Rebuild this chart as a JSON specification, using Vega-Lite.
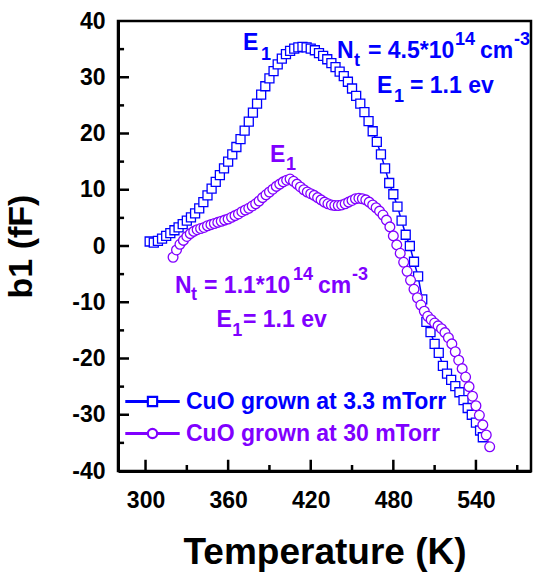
{
  "$schema": "https://vega.github.io/schema/vega-lite/v6.json",
  "width": 413,
  "height": 450,
  "autosize": {"type": "none"},
  "padding": {"left": 118, "top": 21, "right": 3, "bottom": 106},
  "config": {
    "view": {"stroke": "#000000", "strokeWidth": 2.5},
    "font": "Liberation Sans",
    "axis": {
      "grid": false,
      "ticks": false,
      "domainColor": "#000000",
      "domainWidth": 3,
      "labelFont": "Liberation Sans",
      "labelFontWeight": "bold",
      "labelFontSize": 23,
      "labelColor": "#000000",
      "labelFlush": false,
      "titleFont": "Liberation Sans",
      "titleFontWeight": "bold",
      "titleColor": "#000000"
    }
  },
  "datasets": {
    "xmajor": [{"v":300},{"v":360},{"v":420},{"v":480},{"v":540}],
    "xminor": [{"v":330},{"v":390},{"v":450},{"v":510},{"v":570}],
    "ymajor": [{"v":-30},{"v":-20},{"v":-10},{"v":0},{"v":10},{"v":20},{"v":30}],
    "yminor": [{"v":-35},{"v":-25},{"v":-15},{"v":-5},{"v":5},{"v":15},{"v":25},{"v":35}],
    "curves": [
      {"s":"3.3 mTorr","T":303,"b":0.8},{"s":"3.3 mTorr","T":306,"b":0.6},{"s":"3.3 mTorr","T":309,"b":0.9},{"s":"3.3 mTorr","T":312,"b":1.3},
      {"s":"3.3 mTorr","T":315,"b":1.8},{"s":"3.3 mTorr","T":318,"b":2.3},{"s":"3.3 mTorr","T":321,"b":2.8},{"s":"3.3 mTorr","T":324,"b":3.3},
      {"s":"3.3 mTorr","T":327,"b":3.9},{"s":"3.3 mTorr","T":330,"b":4.5},{"s":"3.3 mTorr","T":333,"b":5.1},{"s":"3.3 mTorr","T":336,"b":5.8},
      {"s":"3.3 mTorr","T":339,"b":6.7},{"s":"3.3 mTorr","T":342,"b":7.8},{"s":"3.3 mTorr","T":345,"b":9.0},{"s":"3.3 mTorr","T":348,"b":10.2},
      {"s":"3.3 mTorr","T":351,"b":11.4},{"s":"3.3 mTorr","T":354,"b":12.6},{"s":"3.3 mTorr","T":357,"b":13.8},{"s":"3.3 mTorr","T":360,"b":15.0},
      {"s":"3.3 mTorr","T":363,"b":16.3},{"s":"3.3 mTorr","T":366,"b":17.6},{"s":"3.3 mTorr","T":369,"b":19.0},{"s":"3.3 mTorr","T":372,"b":20.5},
      {"s":"3.3 mTorr","T":375,"b":22.1},{"s":"3.3 mTorr","T":378,"b":23.7},{"s":"3.3 mTorr","T":381,"b":25.3},{"s":"3.3 mTorr","T":384,"b":26.9},
      {"s":"3.3 mTorr","T":387,"b":28.4},{"s":"3.3 mTorr","T":390,"b":29.8},{"s":"3.3 mTorr","T":393,"b":31.1},{"s":"3.3 mTorr","T":396,"b":32.3},
      {"s":"3.3 mTorr","T":399,"b":33.3},{"s":"3.3 mTorr","T":402,"b":34.1},{"s":"3.3 mTorr","T":405,"b":34.7},{"s":"3.3 mTorr","T":408,"b":35.1},
      {"s":"3.3 mTorr","T":411,"b":35.3},{"s":"3.3 mTorr","T":414,"b":35.4},{"s":"3.3 mTorr","T":417,"b":35.3},{"s":"3.3 mTorr","T":420,"b":35.1},
      {"s":"3.3 mTorr","T":423,"b":34.8},{"s":"3.3 mTorr","T":426,"b":34.3},{"s":"3.3 mTorr","T":429,"b":33.8},{"s":"3.3 mTorr","T":432,"b":33.2},
      {"s":"3.3 mTorr","T":435,"b":32.5},{"s":"3.3 mTorr","T":438,"b":31.8},{"s":"3.3 mTorr","T":441,"b":31.0},{"s":"3.3 mTorr","T":444,"b":30.2},
      {"s":"3.3 mTorr","T":447,"b":29.2},{"s":"3.3 mTorr","T":450,"b":28.0},{"s":"3.3 mTorr","T":453,"b":26.7},{"s":"3.3 mTorr","T":456,"b":25.3},
      {"s":"3.3 mTorr","T":459,"b":23.8},{"s":"3.3 mTorr","T":462,"b":22.2},{"s":"3.3 mTorr","T":465,"b":20.4},{"s":"3.3 mTorr","T":468,"b":18.5},
      {"s":"3.3 mTorr","T":471,"b":16.3},{"s":"3.3 mTorr","T":474,"b":13.8},{"s":"3.3 mTorr","T":477,"b":11.2},{"s":"3.3 mTorr","T":480,"b":9.2},
      {"s":"3.3 mTorr","T":483,"b":7.0},{"s":"3.3 mTorr","T":486,"b":4.5},{"s":"3.3 mTorr","T":489,"b":2.0},{"s":"3.3 mTorr","T":492,"b":0.0},
      {"s":"3.3 mTorr","T":495,"b":-2.8},{"s":"3.3 mTorr","T":498,"b":-5.4},{"s":"3.3 mTorr","T":501,"b":-9.5},{"s":"3.3 mTorr","T":504,"b":-13.5},
      {"s":"3.3 mTorr","T":507,"b":-15.3},{"s":"3.3 mTorr","T":510,"b":-17.4},{"s":"3.3 mTorr","T":513,"b":-19.0},{"s":"3.3 mTorr","T":516,"b":-21.3},
      {"s":"3.3 mTorr","T":519,"b":-22.7},{"s":"3.3 mTorr","T":522,"b":-23.8},{"s":"3.3 mTorr","T":525,"b":-24.9},{"s":"3.3 mTorr","T":528,"b":-26.0},
      {"s":"3.3 mTorr","T":531,"b":-27.4},{"s":"3.3 mTorr","T":534,"b":-28.8},{"s":"3.3 mTorr","T":537,"b":-30.0},{"s":"3.3 mTorr","T":540,"b":-31.4},
      {"s":"3.3 mTorr","T":543,"b":-32.8},{"s":"3.3 mTorr","T":545,"b":-34.0},
      {"s":"30 mTorr","T":320,"b":-2.0},{"s":"30 mTorr","T":322.5,"b":-0.7},{"s":"30 mTorr","T":325,"b":0.3},{"s":"30 mTorr","T":327.5,"b":1.0},
      {"s":"30 mTorr","T":330,"b":1.7},{"s":"30 mTorr","T":332.5,"b":2.2},{"s":"30 mTorr","T":335,"b":2.6},{"s":"30 mTorr","T":337.5,"b":2.9},
      {"s":"30 mTorr","T":340,"b":3.1},{"s":"30 mTorr","T":342.5,"b":3.3},{"s":"30 mTorr","T":345,"b":3.6},{"s":"30 mTorr","T":347.5,"b":3.8},
      {"s":"30 mTorr","T":350,"b":4.0},{"s":"30 mTorr","T":352.5,"b":4.2},{"s":"30 mTorr","T":355,"b":4.4},{"s":"30 mTorr","T":357.5,"b":4.6},
      {"s":"30 mTorr","T":360,"b":4.8},{"s":"30 mTorr","T":362.5,"b":5.1},{"s":"30 mTorr","T":365,"b":5.4},{"s":"30 mTorr","T":367.5,"b":5.7},
      {"s":"30 mTorr","T":370,"b":6.1},{"s":"30 mTorr","T":372.5,"b":6.4},{"s":"30 mTorr","T":375,"b":6.7},{"s":"30 mTorr","T":377.5,"b":7.1},
      {"s":"30 mTorr","T":380,"b":7.5},{"s":"30 mTorr","T":382.5,"b":8.0},{"s":"30 mTorr","T":385,"b":8.6},{"s":"30 mTorr","T":387.5,"b":9.1},
      {"s":"30 mTorr","T":390,"b":9.6},{"s":"30 mTorr","T":392.5,"b":10.1},{"s":"30 mTorr","T":395,"b":10.6},{"s":"30 mTorr","T":397.5,"b":11.0},
      {"s":"30 mTorr","T":400,"b":11.4},{"s":"30 mTorr","T":402.5,"b":11.7},{"s":"30 mTorr","T":405,"b":11.9},{"s":"30 mTorr","T":407.5,"b":11.5},
      {"s":"30 mTorr","T":410,"b":11.0},{"s":"30 mTorr","T":412.5,"b":10.5},{"s":"30 mTorr","T":415,"b":10.0},{"s":"30 mTorr","T":417.5,"b":9.6},
      {"s":"30 mTorr","T":420,"b":9.3},{"s":"30 mTorr","T":422.5,"b":9.0},{"s":"30 mTorr","T":425,"b":8.6},{"s":"30 mTorr","T":427.5,"b":8.2},
      {"s":"30 mTorr","T":430,"b":7.8},{"s":"30 mTorr","T":432.5,"b":7.5},{"s":"30 mTorr","T":435,"b":7.3},{"s":"30 mTorr","T":437.5,"b":7.2},
      {"s":"30 mTorr","T":440,"b":7.2},{"s":"30 mTorr","T":442.5,"b":7.3},{"s":"30 mTorr","T":445,"b":7.5},{"s":"30 mTorr","T":447.5,"b":7.8},
      {"s":"30 mTorr","T":450,"b":8.1},{"s":"30 mTorr","T":452.5,"b":8.4},{"s":"30 mTorr","T":455,"b":8.5},{"s":"30 mTorr","T":457.5,"b":8.4},
      {"s":"30 mTorr","T":460,"b":8.2},{"s":"30 mTorr","T":462.5,"b":7.8},{"s":"30 mTorr","T":465,"b":7.3},{"s":"30 mTorr","T":467.5,"b":6.8},
      {"s":"30 mTorr","T":470,"b":6.2},{"s":"30 mTorr","T":472.5,"b":5.5},{"s":"30 mTorr","T":475,"b":4.6},{"s":"30 mTorr","T":477.5,"b":3.4},
      {"s":"30 mTorr","T":480,"b":1.8},{"s":"30 mTorr","T":482.5,"b":0.2},{"s":"30 mTorr","T":485,"b":-1.3},{"s":"30 mTorr","T":487.5,"b":-2.9},
      {"s":"30 mTorr","T":490,"b":-4.5},{"s":"30 mTorr","T":492.5,"b":-6.1},{"s":"30 mTorr","T":495,"b":-7.7},{"s":"30 mTorr","T":497.5,"b":-9.2},
      {"s":"30 mTorr","T":500,"b":-10.5},{"s":"30 mTorr","T":502.5,"b":-11.6},{"s":"30 mTorr","T":505,"b":-12.5},{"s":"30 mTorr","T":507.5,"b":-13.1},
      {"s":"30 mTorr","T":510,"b":-13.7},{"s":"30 mTorr","T":512.5,"b":-14.2},{"s":"30 mTorr","T":515,"b":-14.7},{"s":"30 mTorr","T":517.5,"b":-15.4},
      {"s":"30 mTorr","T":520,"b":-16.3},{"s":"30 mTorr","T":522.5,"b":-17.4},{"s":"30 mTorr","T":525,"b":-18.8},{"s":"30 mTorr","T":527.5,"b":-20.3},
      {"s":"30 mTorr","T":530,"b":-21.8},{"s":"30 mTorr","T":532.5,"b":-23.3},{"s":"30 mTorr","T":535,"b":-25.0},{"s":"30 mTorr","T":537.5,"b":-26.7},
      {"s":"30 mTorr","T":540,"b":-28.4},{"s":"30 mTorr","T":542.5,"b":-30.1},{"s":"30 mTorr","T":545,"b":-31.8},{"s":"30 mTorr","T":547.5,"b":-33.6},
      {"s":"30 mTorr","T":550,"b":-35.7}
    ],
    "notes": [
      {"s":"3.3 mTorr","k":"m","t":"E","T":370.8,"b":34.8},
      {"s":"3.3 mTorr","k":"l","t":"1","T":383.9,"b":33.1},
      {"s":"3.3 mTorr","k":"m","t":"N","T":439.1,"b":33.4},
      {"s":"3.3 mTorr","k":"l","t":"t","T":451.4,"b":32.0},
      {"s":"3.3 mTorr","k":"m","t":"= 4.5*10","T":461.6,"b":33.4},
      {"s":"3.3 mTorr","k":"h","t":"14","T":524.8,"b":35.7},
      {"s":"3.3 mTorr","k":"m","t":"cm","T":543.0,"b":33.4},
      {"s":"3.3 mTorr","k":"h","t":"-3","T":567.6,"b":35.7},
      {"s":"3.3 mTorr","k":"m","t":"E","T":468.1,"b":27.2},
      {"s":"3.3 mTorr","k":"l","t":"1","T":480.5,"b":25.6},
      {"s":"3.3 mTorr","k":"m","t":"= 1.1 ev","T":492.1,"b":27.2},
      {"s":"30 mTorr","k":"m","t":"E","T":390.4,"b":14.9},
      {"s":"30 mTorr","k":"l","t":"1","T":402.0,"b":13.5},
      {"s":"30 mTorr","k":"m","t":"N","T":321.4,"b":-8.4},
      {"s":"30 mTorr","k":"l","t":"t","T":333.0,"b":-9.6},
      {"s":"30 mTorr","k":"m","t":"= 1.1*10","T":342.5,"b":-8.4},
      {"s":"30 mTorr","k":"h","t":"14","T":407.1,"b":-6.0},
      {"s":"30 mTorr","k":"m","t":"cm","T":425.3,"b":-8.4},
      {"s":"30 mTorr","k":"h","t":"-3","T":450.0,"b":-6.0},
      {"s":"30 mTorr","k":"m","t":"E","T":351.5,"b":-14.4},
      {"s":"30 mTorr","k":"l","t":"1","T":363.0,"b":-16.0},
      {"s":"30 mTorr","k":"m","t":"= 1.1 ev","T":370.8,"b":-14.4}
    ]
  },
  "layer": [
    {
      "data": {"name": "xmajor"},
      "mark": {"type": "rule", "color": "#000000", "strokeWidth": 2.5, "strokeCap": "butt"},
      "encoding": {
        "x": {"field": "v", "type": "quantitative", "scale": {"domain": [280, 580], "nice": false, "zero": false},
              "axis": {"orient": "bottom", "values": [300, 360, 420, 480, 540], "title": "Temperature (K)",
                       "labelPadding": 18, "titleFontSize": 37, "titlePadding": 22,
                       "labelExpr": "toString(datum.value)"}},
        "y": {"datum": -40, "type": "quantitative", "scale": {"domain": [-40, 40], "nice": false, "zero": false},
              "axis": {"orient": "left", "values": [-40, -30, -20, -10, 0, 10, 20, 30, 40], "title": "b1 (fF)",
                       "labelPadding": 13, "titleFontSize": 34, "titlePadding": 33,
                       "labelExpr": "toString(datum.value)"}},
        "y2": {"datum": -38}
      }
    },
    {
      "data": {"name": "xminor"},
      "mark": {"type": "rule", "color": "#000000", "strokeWidth": 2.5, "strokeCap": "butt"},
      "encoding": {
        "x": {"field": "v", "type": "quantitative"},
        "y": {"datum": -40, "type": "quantitative"},
        "y2": {"datum": -38.93}
      }
    },
    {
      "data": {"name": "ymajor"},
      "mark": {"type": "rule", "color": "#000000", "strokeWidth": 2.5, "strokeCap": "butt"},
      "encoding": {
        "y": {"field": "v", "type": "quantitative"},
        "x": {"datum": 280, "type": "quantitative"},
        "x2": {"datum": 288}
      }
    },
    {
      "data": {"name": "yminor"},
      "mark": {"type": "rule", "color": "#000000", "strokeWidth": 2.5, "strokeCap": "butt"},
      "encoding": {
        "y": {"field": "v", "type": "quantitative"},
        "x": {"datum": 280, "type": "quantitative"},
        "x2": {"datum": 284.4}
      }
    },
    {
      "data": {"name": "curves"},
      "transform": [{"filter": "datum.s == '3.3 mTorr'"}],
      "mark": {"type": "line", "strokeWidth": 1.5},
      "encoding": {
        "x": {"field": "T", "type": "quantitative"},
        "y": {"field": "b", "type": "quantitative"},
        "color": {"field": "s", "type": "nominal",
                  "scale": {"domain": ["3.3 mTorr", "30 mTorr"], "range": ["#0000ff", "#8000ff"]},
                  "legend": {
                    "orient": "none", "legendX": 23, "legendY": 369, "title": null, "padding": 0,
                    "rowPadding": 8, "labelOffset": 22, "labelFont": "Liberation Sans", "labelFontSize": 23,
                    "labelFontWeight": "bold", "labelLimit": 400, "labelExpr": "'CuO grown at ' + datum.label",
                    "symbolSize": 100, "symbolStrokeWidth": 1.4, "symbolFillColor": "#ffffff",
                    "encode": {
                      "symbols": {"update": {
                        "shape": {"signal": "datum.value == '3.3 mTorr' ? 'M-5.3,-0.16H-1V0.16H-5.3Z M1,-0.16H5.3V0.16H1Z M-1,-1H1V1H-1Z M-0.86,-0.86V0.86H0.86V-0.86Z' : 'M-5.3,-0.16H-1V0.16H-5.3Z M1,-0.16H5.3V0.16H1Z M-1,0A1,1,0,1,0,1,0A1,1,0,1,0,-1,0Z M-0.86,0A0.86,0.86,0,1,1,0.86,0A0.86,0.86,0,1,1,-0.86,0Z'"},
                        "stroke": {"scale": "color", "field": "value"},
                        "strokeWidth": {"value": 1.4},
                        "size": {"value": 100},
                        "opacity": {"value": 1}
                      }},
                      "labels": {"update": {"fill": {"scale": "color", "field": "value"}}}
                    }
                  }}
      }
    },
    {
      "data": {"name": "curves"},
      "transform": [{"filter": "datum.s == '3.3 mTorr'"}],
      "mark": {"type": "point", "shape": "square", "filled": true, "fill": "#ffffff", "stroke": "#0000ff", "strokeWidth": 1.3, "size": 81, "opacity": 1},
      "encoding": {
        "x": {"field": "T", "type": "quantitative"},
        "y": {"field": "b", "type": "quantitative"}
      }
    },
    {
      "data": {"name": "curves"},
      "transform": [{"filter": "datum.s == '30 mTorr'"}],
      "mark": {"type": "line", "strokeWidth": 1.5, "color": "#8000ff"},
      "encoding": {
        "x": {"field": "T", "type": "quantitative"},
        "y": {"field": "b", "type": "quantitative"}
      }
    },
    {
      "data": {"name": "curves"},
      "transform": [{"filter": "datum.s == '30 mTorr'"}],
      "mark": {"type": "point", "shape": "circle", "filled": true, "fill": "#ffffff", "stroke": "#8000ff", "strokeWidth": 1.3, "size": 95, "opacity": 1},
      "encoding": {
        "x": {"field": "T", "type": "quantitative"},
        "y": {"field": "b", "type": "quantitative"}
      }
    },
    {
      "data": {"name": "notes"},
      "transform": [{"filter": "datum.k == 'm'"}],
      "mark": {"type": "text", "align": "left", "baseline": "alphabetic", "font": "Liberation Sans", "fontWeight": "bold", "fontSize": 23},
      "encoding": {
        "x": {"field": "T", "type": "quantitative"},
        "y": {"field": "b", "type": "quantitative"},
        "text": {"field": "t"},
        "color": {"field": "s", "type": "nominal", "legend": null}
      }
    },
    {
      "data": {"name": "notes"},
      "transform": [{"filter": "datum.k != 'm'"}],
      "mark": {"type": "text", "align": "left", "baseline": "alphabetic", "font": "Liberation Sans", "fontWeight": "bold", "fontSize": 18},
      "encoding": {
        "x": {"field": "T", "type": "quantitative"},
        "y": {"field": "b", "type": "quantitative"},
        "text": {"field": "t"},
        "color": {"field": "s", "type": "nominal", "legend": null}
      }
    }
  ]
}
